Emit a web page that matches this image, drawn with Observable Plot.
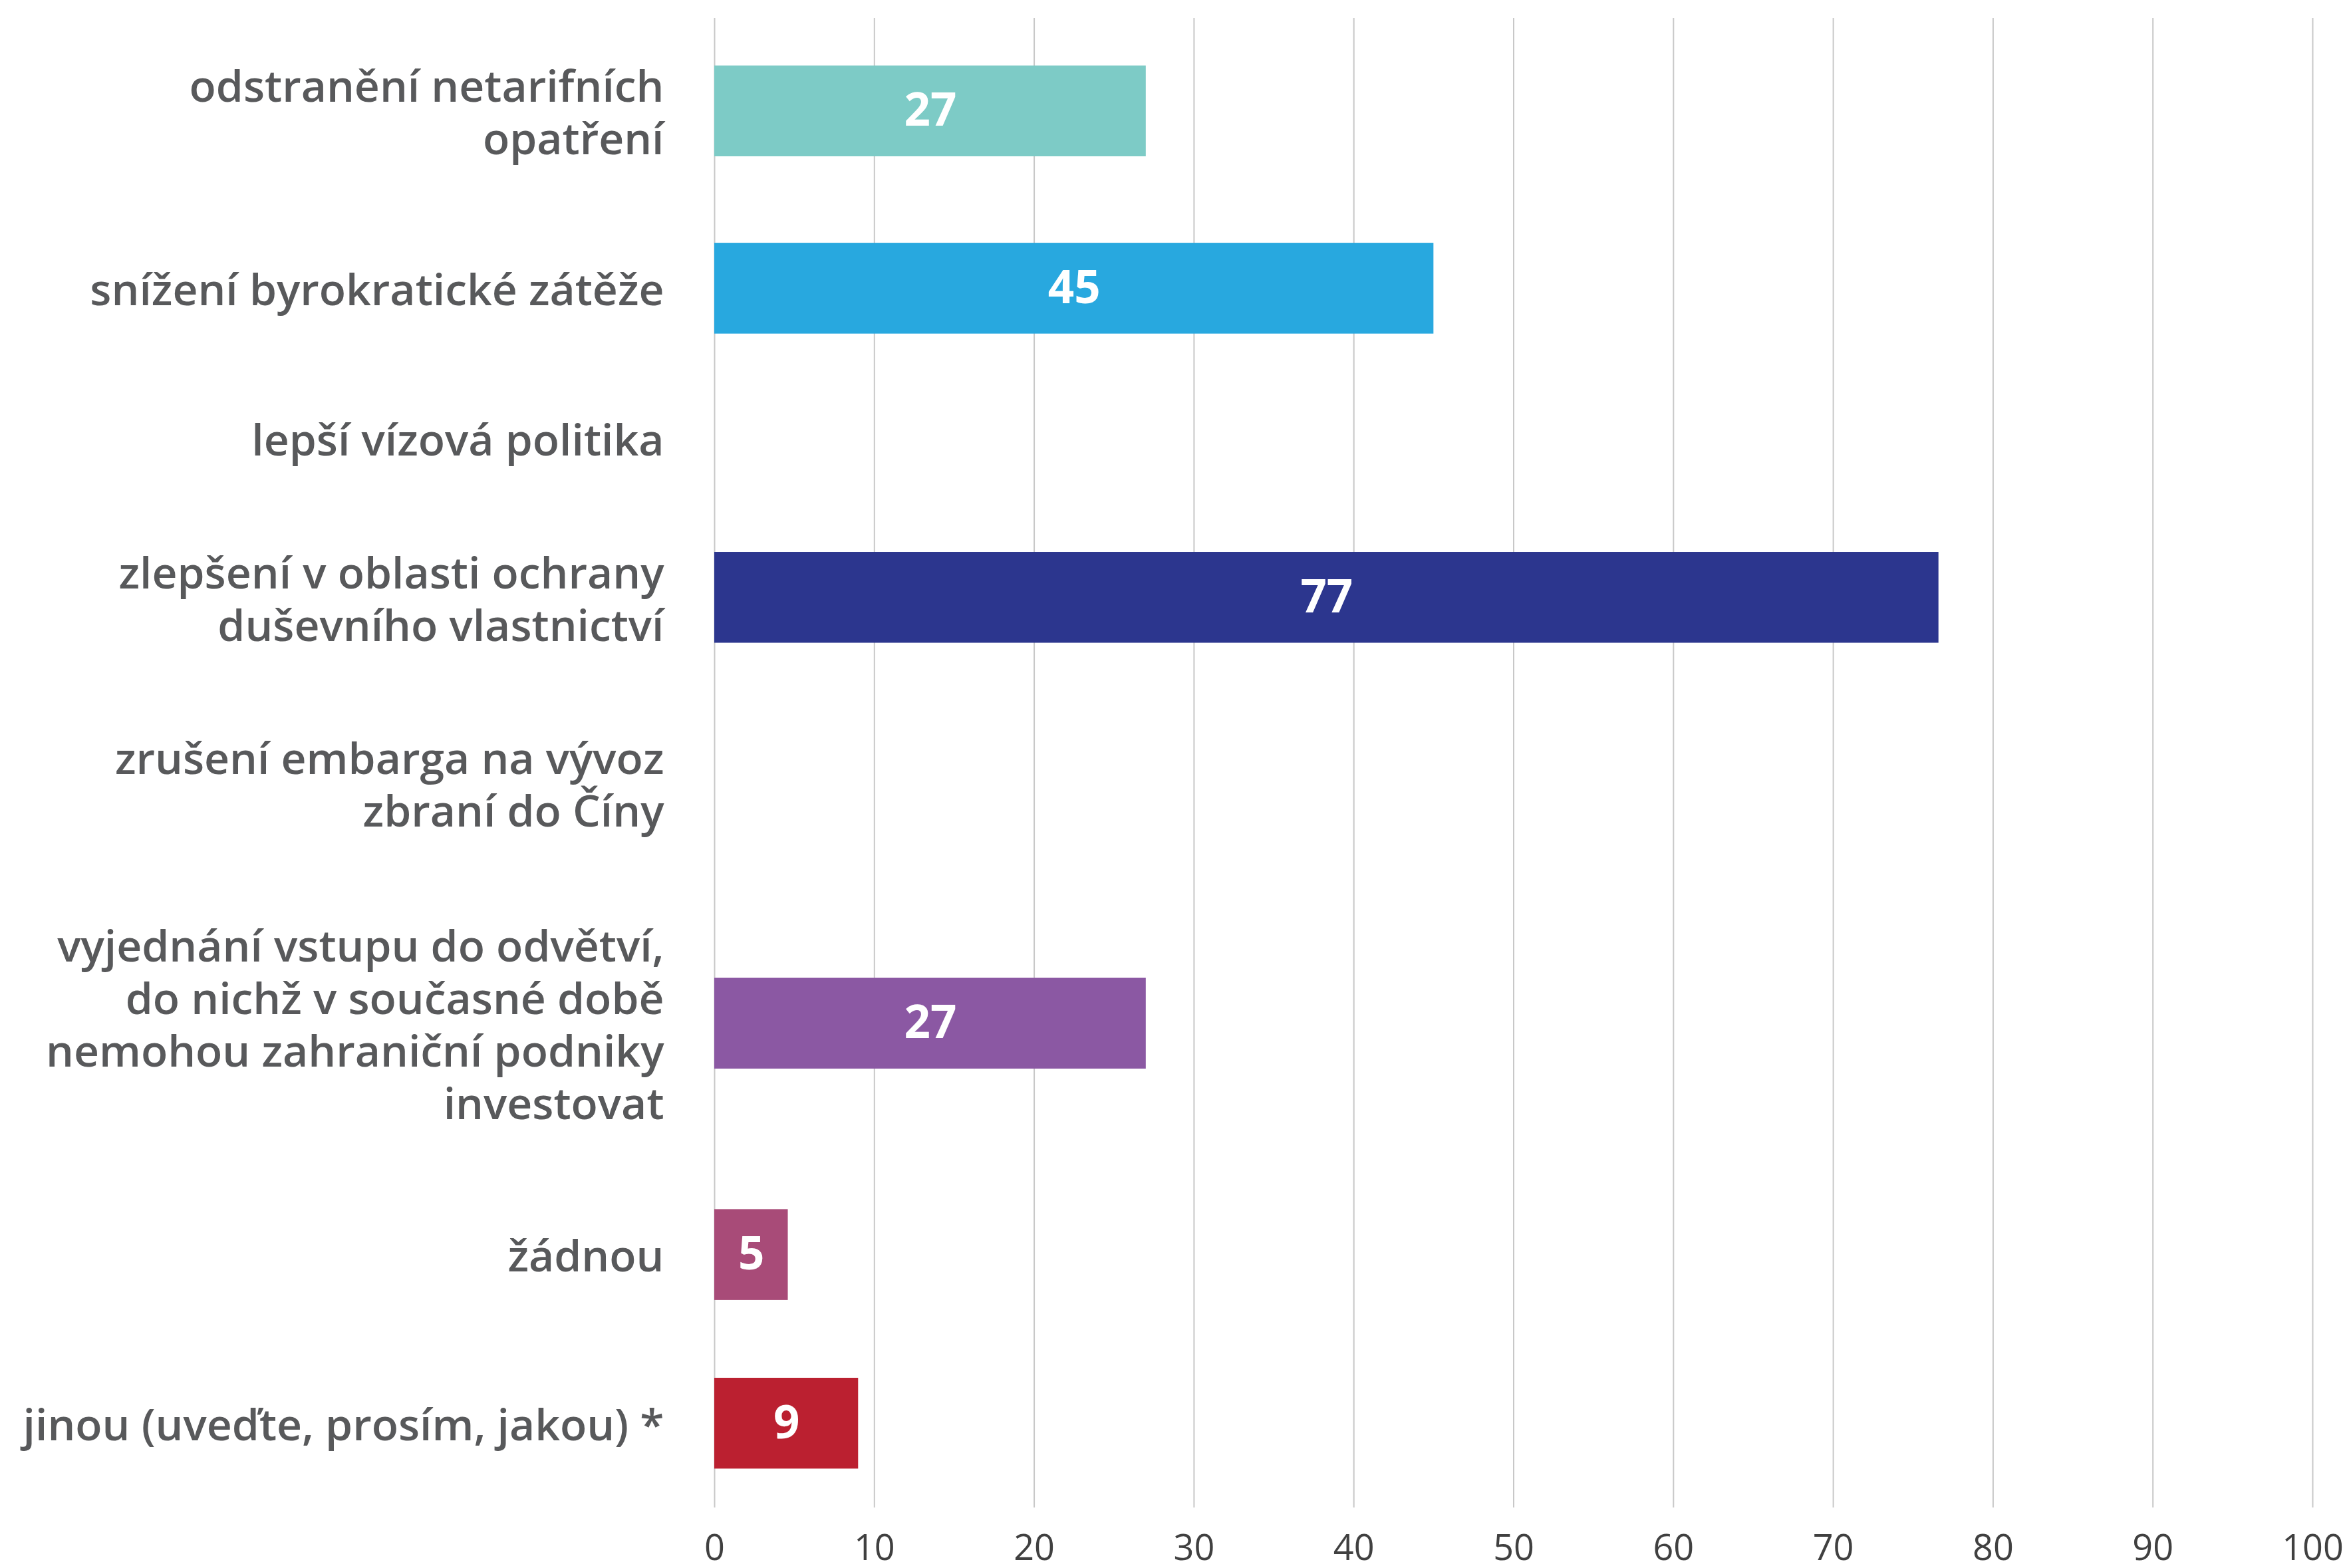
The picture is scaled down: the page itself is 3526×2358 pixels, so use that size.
<!DOCTYPE html>
<html>
<head>
<meta charset="utf-8">
<script src="https://cdn.jsdelivr.net/npm/d3@7"></script>
<script src="https://cdn.jsdelivr.net/npm/@observablehq/plot@0.6"></script>
<style>
  html, body { margin: 0; padding: 0; background: #ffffff; }
  svg { display: block; }
</style>
</head>
<body>
<div id="chart"></div>
<script>
// ---- data ----
const categories = [
  "odstranění netarifních\nopatření",
  "snížení byrokratické zátěže",
  "lepší vízová politika",
  "zlepšení v oblasti ochrany\nduševního vlastnictví",
  "zrušení embarga na vývoz\nzbraní do Číny",
  "vyjednání vstupu do odvětví,\ndo nichž v současné době\nnemohou zahraniční podniky\ninvestovat",
  "žádnou",
  "jinou (uveďte, prosím, jakou) *"
];
const values = [27, 45, null, 76.6, null, 27, 4.6, 9];
const xTicks = [0, 10, 20, 30, 40, 50, 60, 70, 80, 90, 100];

// ---- styles ----
const palette = ["#7dcbc6", "#28a8df", "#cccccc", "#2c368e", "#cccccc", "#8b58a3", "#a84b78", "#bb2030"];

// ---- row layout (in label-line units): each row is as tall as the taller of
//      its wrapped label and its bar, plus a constant gap ----
const BAR = 1.68;  // bar thickness
const GAP = 1.44;  // space between rows
let acc = 0;
const rows = categories.map((label, i) => {
  const lines = label.split("\n").length;
  const h = Math.max(lines, values[i] != null ? BAR : 0) + GAP;
  const c = acc + h / 2;
  acc += h;
  return {label, value: values[i], c};
});
const total = acc;
const labelByPos = new Map(rows.map(d => [d.c, d.label]));
const barRows = rows.filter(d => d.value != null);

const chart = Plot.plot({
  width: 3526,
  height: 2358,
  marginLeft: 1074,
  marginRight: 49,
  marginTop: 27,
  marginBottom: 91,
  style: {fontFamily: "'Open Sans', sans-serif", background: "#ffffff", overflow: "visible"},
  x: {domain: [0, 100]},
  y: {domain: [0, total], reverse: true},
  color: {type: "ordinal", domain: categories, range: palette},
  marks: [
    Plot.gridX(xTicks, {stroke: "#c8c8c8", strokeOpacity: 1, strokeWidth: 2}),
    Plot.axisX(xTicks, {
      tickSize: 0, tickPadding: 40, fontSize: 54, fill: "#404040", label: null
    }),
    Plot.axisY(rows.map(d => d.c), {
      tickSize: 0, tickPadding: 76, fontSize: 66, fontWeight: 600, fill: "#58595b",
      lineHeight: 1.2, label: null, tickFormat: d => labelByPos.get(d)
    }),
    Plot.rect(barRows, {
      x1: 0, x2: "value",
      y1: d => d.c - BAR / 2,
      y2: d => d.c + BAR / 2,
      fill: "label"
    }),
    Plot.text(barRows, {
      x: d => d.value / 2, y: "c",
      text: d => d3.format(".0f")(d.value),
      fill: "white", fontSize: 69, fontWeight: 700
    })
  ]
});
document.getElementById("chart").appendChild(chart);
</script>
</body>
</html>
